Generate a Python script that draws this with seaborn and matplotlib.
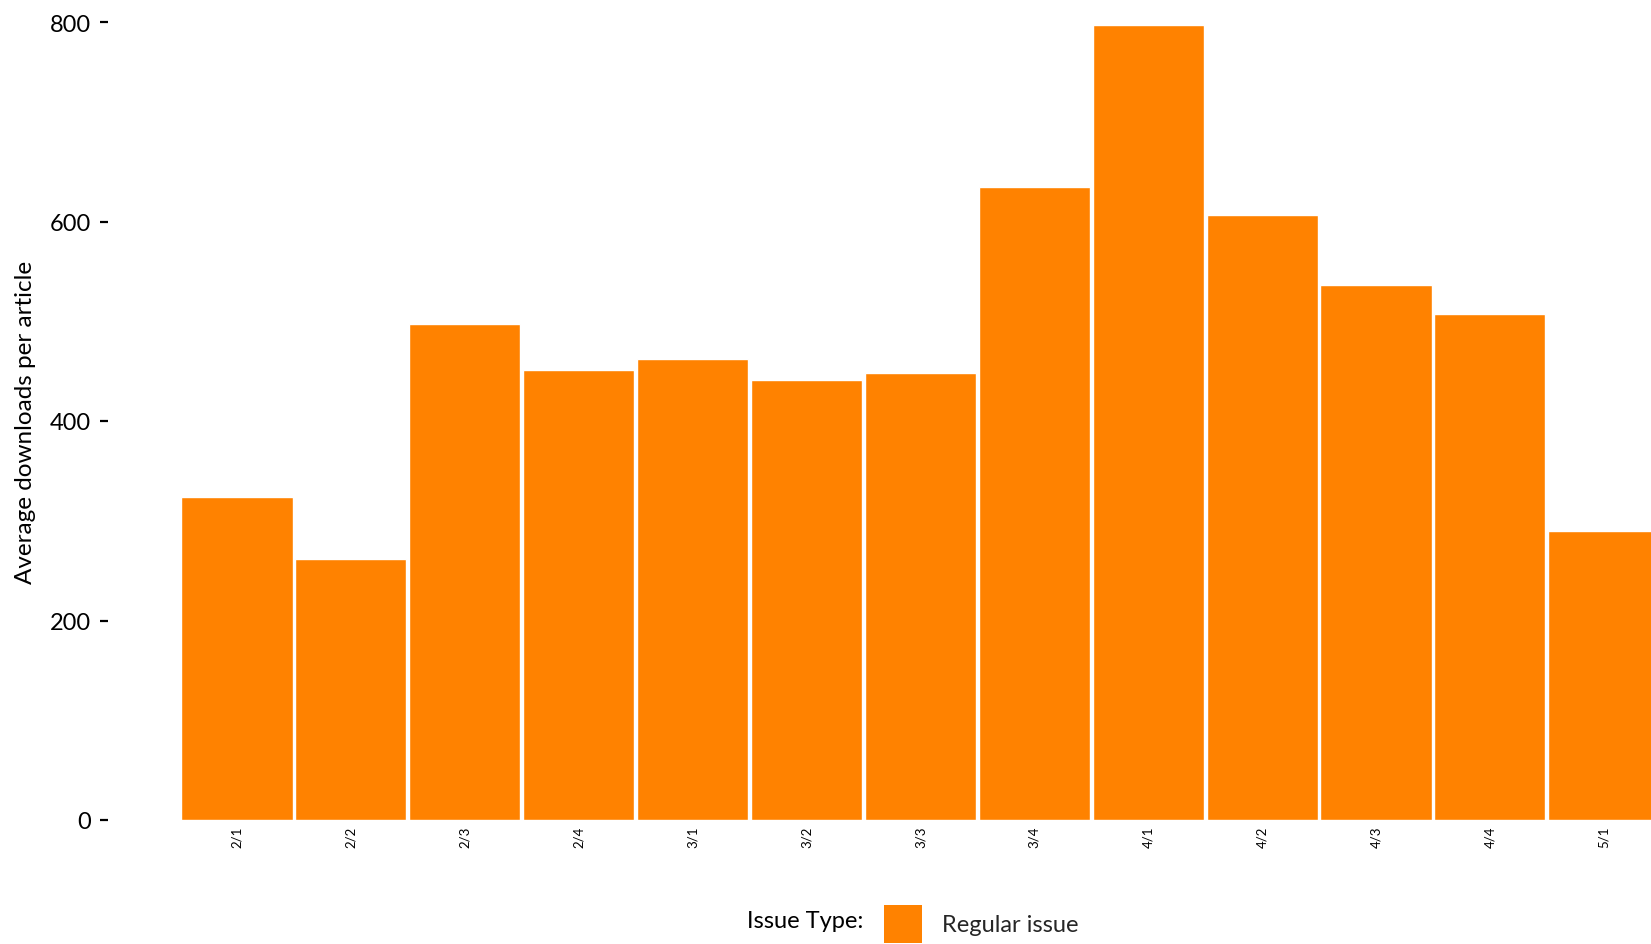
import matplotlib
matplotlib.use("Agg")
import matplotlib.pyplot as plt
import seaborn as sns
import pandas as pd
from matplotlib.patches import Patch

issues = ["2/1", "2/2", "2/3", "2/4", "3/1", "3/2", "3/3", "3/4",
          "4/1", "4/2", "4/3", "4/4", "5/1"]
downloads = [324, 262, 497, 451, 462, 441, 448, 635, 797, 607, 536, 507, 290]
issue_type = ["Regular issue"] * len(issues)

ORANGE = "#FF8200"

df = pd.DataFrame({"issue": issues, "downloads": downloads, "type": issue_type})

sns.set_theme(style="white")
plt.rcParams["font.family"] = ["Lato", "DejaVu Sans"]

W, H = 1651, 945
fig = plt.figure(figsize=(W / 100, H / 100), dpi=100)
ax_left, ax_right = 108, 1651
ax_top, ax_bottom = 23, 821
ax = fig.add_axes([ax_left / W, (H - ax_bottom) / H,
                   (ax_right - ax_left) / W, (ax_bottom - ax_top) / H])

sns.barplot(data=df, x="issue", y="downloads", hue="type",
            palette={"Regular issue": ORANGE}, width=0.975, dodge=False,
            saturation=1, legend=False, ax=ax)

c0, pitch = 237, 113.9
ax.set_xlim((ax_left - c0) / pitch, (ax_right - c0) / pitch)
ax.set_ylim(0, 800)
ax.set_yticks([0, 200, 400, 600, 800])
for s in ax.spines.values():
    s.set_visible(False)
ax.tick_params(axis="y", left=True, length=6, width=1.6, color="black",
               labelsize=17, pad=6, labelcolor="black")
ax.tick_params(axis="x", bottom=False, length=0, labelsize=9.5, pad=4,
               labelrotation=90, labelcolor="black")
ax.set_xlabel("")
ax.set_ylabel("Average downloads per article", fontsize=17.5, color="black")
ax.yaxis.set_label_coords(-(ax_left - 36) / (ax_right - ax_left), 0.5)

fig.text(863 / W, 23 / H, "Issue Type:", ha="right", va="center",
         fontsize=17, color="black")
handles = [Patch(facecolor=ORANGE, edgecolor="none", label="Regular issue")]
fig.legend(handles=handles, loc="center left", frameon=False,
           bbox_to_anchor=(884 / W, 20 / H), borderpad=0, borderaxespad=0,
           handlelength=1.6, handleheight=2.1, handletextpad=0.85,
           fontsize=17)

fig.savefig("out.png", dpi=100)
